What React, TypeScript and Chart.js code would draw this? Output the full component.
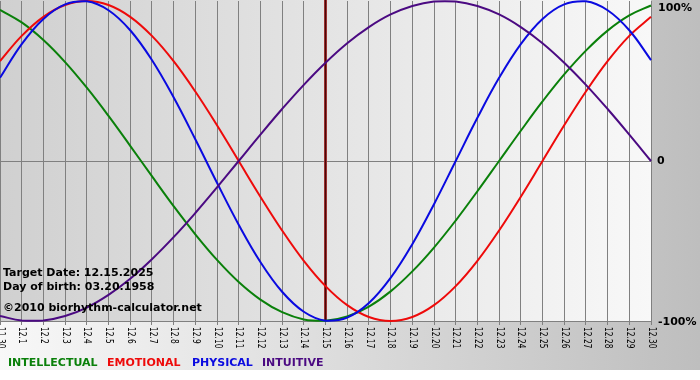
import React, { useEffect, useRef } from "react";
import { Chart, registerables } from "chart.js";

Chart.register(...registerables);

const dayLabels = [
  "11.30", "12.1", "12.2", "12.3", "12.4", "12.5", "12.6", "12.7", "12.8", "12.9",
  "12.10", "12.11", "12.12", "12.13", "12.14", "12.15", "12.16", "12.17", "12.18", "12.19",
  "12.20", "12.21", "12.22", "12.23", "12.24", "12.25", "12.26", "12.27", "12.28", "12.29", "12.30",
];

const intellectual = [
  0.945, 0.866, 0.756, 0.618, 0.458, 0.282, 0.095, -0.095, -0.282, -0.458,
  -0.618, -0.756, -0.866, -0.945, -0.99, -0.999, -0.972, -0.91, -0.815, -0.69,
  -0.541, -0.372, -0.189, 0, 0.189, 0.372, 0.541, 0.69, 0.815, 0.91, 0.972,
];
const emotional = [
  0.624, 0.782, 0.901, 0.975, 1, 0.975, 0.901, 0.782, 0.624, 0.434,
  0.223, 0, -0.223, -0.434, -0.624, -0.782, -0.901, -0.975, -1, -0.975,
  -0.901, -0.782, -0.624, -0.434, -0.223, 0, 0.223, 0.434, 0.624, 0.782, 0.901,
];
const physical = [
  0.52, 0.731, 0.888, 0.979, 0.998, 0.942, 0.817, 0.631, 0.398, 0.136,
  -0.136, -0.398, -0.631, -0.817, -0.942, -0.998, -0.979, -0.888, -0.731, -0.52,
  -0.27, 0, 0.27, 0.52, 0.731, 0.888, 0.979, 0.998, 0.942, 0.817, 0.631,
];
const intuitive = [
  -0.969, -0.997, -0.997, -0.969, -0.916, -0.837, -0.736, -0.614, -0.476, -0.325,
  -0.165, 0, 0.165, 0.325, 0.476, 0.614, 0.736, 0.837, 0.916, 0.969,
  0.997, 0.997, 0.969, 0.916, 0.837, 0.736, 0.614, 0.476, 0.325, 0.165, 0,
];

const seriesNames = ["INTELLECTUAL", "EMOTIONAL", "PHYSICAL", "INTUITIVE"];
const seriesColors = ["#0a800a", "#ee0a0a", "#0a0ae0", "#4b0a82"];
const yTickValues = [1, 0, -1];
const yTickLabels = ["100%", "0", "-100%"];
const infoLines = [
  "Target Date: 12.15.2025",
  "Day of birth: 03.20.1958",
  "©2010 biorhythm-calculator.net",
];
const targetLabel = "12.15";

const decorPlugin = {
  id: "decor",
  beforeDraw(chart: any) {
    const { ctx, chartArea, width, height } = chart;
    ctx.save();
    ctx.fillStyle = "#ffffff";
    ctx.fillRect(0, 0, width, height);
    const og = ctx.createLinearGradient(0, 0, width, 0);
    og.addColorStop(0, "#f8f8f8");
    og.addColorStop(1, "#bebebe");
    ctx.fillStyle = og;
    ctx.fillRect(0, 0, width, 370);
    const pg = ctx.createLinearGradient(chartArea.left, 0, chartArea.right, 0);
    pg.addColorStop(0, "#d0d0d0");
    pg.addColorStop(1, "#f8f8f8");
    ctx.fillStyle = pg;
    ctx.fillRect(chartArea.left, chartArea.top - 1, chartArea.right - chartArea.left, chartArea.bottom - chartArea.top + 1);
    ctx.restore();
  },
  beforeDatasetsDraw(chart: any) {
    const { ctx, chartArea, scales } = chart;
    const x = Math.round(scales.x.getPixelForValue(dayLabels.indexOf(targetLabel)));
    ctx.save();
    ctx.fillStyle = "#9a3030";
    ctx.fillRect(x - 2, chartArea.top - 1, 3, chartArea.bottom - chartArea.top + 1);
    ctx.fillStyle = "#4a0808";
    ctx.fillRect(x - 1, chartArea.top - 1, 1, chartArea.bottom - chartArea.top + 1);
    ctx.restore();
  },
  afterDraw(chart: any) {
    const { ctx, chartArea, scales } = chart;
    ctx.save();
    // x tick labels rotated clockwise
    ctx.fillStyle = "#000";
    ctx.font = '11px "DejaVu Sans"';
    ctx.textAlign = "left";
    ctx.textBaseline = "middle";
    dayLabels.forEach((lab, i) => {
      const x = scales.x.getPixelForValue(i);
      ctx.save();
      ctx.translate(x + 0.5, chartArea.bottom + 6);
      ctx.rotate(Math.PI / 2);
      ctx.scale(0.68, 1);
      ctx.fillText(lab, 0, 0);
      ctx.restore();
    });
    // right axis labels
    ctx.font = 'bold 11px "DejaVu Sans"';
    ctx.textBaseline = "middle";
    yTickValues.forEach((v, i) => {
      let y = scales.y.getPixelForValue(v);
      if (y < 7) y = 7;
      const lab = yTickLabels[i];
      const x = lab === "0" ? chartArea.right + 6 : chartArea.right + 7;
      ctx.fillText(lab, x, y + (v === 0 ? 0 : 1));
    });
    // info text
    ctx.textBaseline = "alphabetic";
    ctx.fillText(infoLines[0], 3, 276);
    ctx.fillText(infoLines[1], 3, 290);
    ctx.fillText(infoLines[2], 3, 311);
    // legend
    const lx = [8, 107, 192, 262];
    seriesNames.forEach((n, i) => {
      ctx.fillStyle = seriesColors[i];
      ctx.fillText(n, lx[i], 366);
    });
    ctx.restore();
  },
};

export default function App() {
  const ref = useRef<HTMLCanvasElement>(null);
  useEffect(() => {
    if (!ref.current) return;
    const series = [intellectual, emotional, physical, intuitive];
    const chart = new Chart(ref.current, {
      type: "line",
      data: {
        labels: dayLabels,
        datasets: series.map((d, i) => ({
          label: seriesNames[i],
          data: d,
          borderColor: seriesColors[i],
          backgroundColor: seriesColors[i],
          borderWidth: 2,
          pointRadius: 0,
          tension: 0.4,
          fill: false,
          clip: false,
          order: 4 - i,
        })),
      },
      options: {
        responsive: false,
        animation: false,
        devicePixelRatio: 1,
        layout: { padding: { left: 0, right: 49, top: 1, bottom: 55 } },
        plugins: { legend: { display: false }, tooltip: { enabled: false } },
        scales: {
          x: {
            type: "category",
            offset: false,
            ticks: { display: false },
            grid: { color: "#808080", lineWidth: 1, drawTicks: true, tickLength: 4 },
            border: { display: true, color: "#808080" },
          },
          y: {
            min: -1,
            max: 1,
            position: "right",
            ticks: { display: false, stepSize: 1 },
            grid: {
              drawTicks: false,
              color: (c: any) => (c.tick && c.tick.value === 0 ? "#808080" : "rgba(0,0,0,0)"),
            },
            border: { display: false },
          },
        },
      },
      plugins: [decorPlugin],
    } as any);
    return () => chart.destroy();
  }, []);
  return (
    <div style={{ position: "fixed", left: 0, top: 0, width: 700, height: 380, background: "#fff" }}>
      <canvas ref={ref} width={700} height={380} style={{ display: "block", width: 700, height: 380 }} />
    </div>
  );
}
